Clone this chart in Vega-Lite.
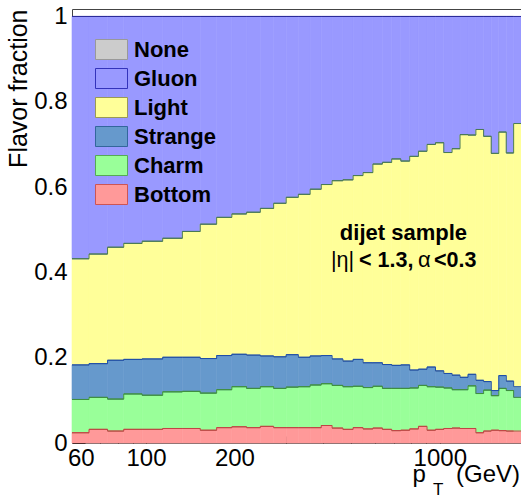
{
  "$schema": "https://vega.github.io/schema/vega-lite/v6.json",
  "width": 449,
  "height": 434,
  "autosize": {"type": "none"},
  "padding": {"left": 72, "top": 9, "right": 0, "bottom": 59},
  "background": "white",
  "config": {
    "font": "Liberation Sans",
    "view": {"stroke": null},
    "axis": {"grid": false, "labelColor": "#000", "tickColor": "#000", "domainColor": "#444", "titleColor": "#000", "labelFontSize": 24, "labelFont": "Liberation Sans", "titleFont": "Liberation Sans"}
  },
  "datasets": {
    "bins": [
      {"lo":56,"hi":64,"Bottom":0.024,"Charm":0.078,"Strange":0.081,"Light":0.249,"Gluon":0.568},
      {"lo":64,"hi":74,"Bottom":0.032,"Charm":0.075,"Strange":0.079,"Light":0.257,"Gluon":0.557},
      {"lo":74,"hi":84,"Bottom":0.028,"Charm":0.075,"Strange":0.091,"Light":0.265,"Gluon":0.541},
      {"lo":84,"hi":97,"Bottom":0.032,"Charm":0.083,"Strange":0.081,"Light":0.272,"Gluon":0.532},
      {"lo":97,"hi":114,"Bottom":0.032,"Charm":0.080,"Strange":0.085,"Light":0.276,"Gluon":0.527},
      {"lo":114,"hi":133,"Bottom":0.034,"Charm":0.086,"Strange":0.081,"Light":0.279,"Gluon":0.520},
      {"lo":133,"hi":153,"Bottom":0.034,"Charm":0.087,"Strange":0.080,"Light":0.295,"Gluon":0.504},
      {"lo":153,"hi":174,"Bottom":0.030,"Charm":0.087,"Strange":0.081,"Light":0.315,"Gluon":0.487},
      {"lo":174,"hi":196,"Bottom":0.036,"Charm":0.089,"Strange":0.080,"Light":0.324,"Gluon":0.471},
      {"lo":196,"hi":220,"Bottom":0.038,"Charm":0.094,"Strange":0.076,"Light":0.329,"Gluon":0.463},
      {"lo":220,"hi":245,"Bottom":0.036,"Charm":0.092,"Strange":0.078,"Light":0.335,"Gluon":0.459},
      {"lo":245,"hi":272,"Bottom":0.039,"Charm":0.093,"Strange":0.072,"Light":0.346,"Gluon":0.450},
      {"lo":272,"hi":300,"Bottom":0.036,"Charm":0.092,"Strange":0.074,"Light":0.360,"Gluon":0.438},
      {"lo":300,"hi":330,"Bottom":0.036,"Charm":0.095,"Strange":0.076,"Light":0.369,"Gluon":0.424},
      {"lo":330,"hi":362,"Bottom":0.036,"Charm":0.096,"Strange":0.069,"Light":0.382,"Gluon":0.417},
      {"lo":362,"hi":395,"Bottom":0.036,"Charm":0.100,"Strange":0.068,"Light":0.391,"Gluon":0.405},
      {"lo":395,"hi":430,"Bottom":0.041,"Charm":0.098,"Strange":0.066,"Light":0.401,"Gluon":0.394},
      {"lo":430,"hi":468,"Bottom":0.035,"Charm":0.100,"Strange":0.062,"Light":0.418,"Gluon":0.385},
      {"lo":468,"hi":507,"Bottom":0.032,"Charm":0.100,"Strange":0.060,"Light":0.425,"Gluon":0.383},
      {"lo":507,"hi":548,"Bottom":0.036,"Charm":0.097,"Strange":0.063,"Light":0.431,"Gluon":0.373},
      {"lo":548,"hi":592,"Bottom":0.033,"Charm":0.097,"Strange":0.058,"Light":0.446,"Gluon":0.366},
      {"lo":592,"hi":638,"Bottom":0.035,"Charm":0.098,"Strange":0.055,"Light":0.466,"Gluon":0.346},
      {"lo":638,"hi":686,"Bottom":0.032,"Charm":0.096,"Strange":0.056,"Light":0.474,"Gluon":0.342},
      {"lo":686,"hi":737,"Bottom":0.029,"Charm":0.099,"Strange":0.054,"Light":0.484,"Gluon":0.334},
      {"lo":737,"hi":790,"Bottom":0.030,"Charm":0.098,"Strange":0.055,"Light":0.478,"Gluon":0.339},
      {"lo":790,"hi":846,"Bottom":0.033,"Charm":0.096,"Strange":0.042,"Light":0.501,"Gluon":0.328},
      {"lo":846,"hi":905,"Bottom":0.039,"Charm":0.096,"Strange":0.038,"Light":0.511,"Gluon":0.316},
      {"lo":905,"hi":967,"Bottom":0.030,"Charm":0.102,"Strange":0.046,"Light":0.522,"Gluon":0.300},
      {"lo":967,"hi":1032,"Bottom":0.032,"Charm":0.099,"Strange":0.038,"Light":0.535,"Gluon":0.296},
      {"lo":1032,"hi":1101,"Bottom":0.034,"Charm":0.095,"Strange":0.034,"Light":0.518,"Gluon":0.319},
      {"lo":1101,"hi":1172,"Bottom":0.035,"Charm":0.090,"Strange":0.034,"Light":0.531,"Gluon":0.310},
      {"lo":1172,"hi":1248,"Bottom":0.034,"Charm":0.091,"Strange":0.029,"Light":0.569,"Gluon":0.277},
      {"lo":1248,"hi":1327,"Bottom":0.034,"Charm":0.100,"Strange":0.027,"Light":0.561,"Gluon":0.278},
      {"lo":1327,"hi":1410,"Bottom":0.024,"Charm":0.092,"Strange":0.031,"Light":0.588,"Gluon":0.265},
      {"lo":1410,"hi":1497,"Bottom":0.028,"Charm":0.096,"Strange":0.020,"Light":0.575,"Gluon":0.281},
      {"lo":1497,"hi":1588,"Bottom":0.030,"Charm":0.081,"Strange":0.012,"Light":0.556,"Gluon":0.321},
      {"lo":1588,"hi":1684,"Bottom":0.029,"Charm":0.099,"Strange":0.030,"Light":0.571,"Gluon":0.271},
      {"lo":1684,"hi":1784,"Bottom":0.028,"Charm":0.095,"Strange":0.022,"Light":0.535,"Gluon":0.320},
      {"lo":1784,"hi":1890,"Bottom":0.028,"Charm":0.079,"Strange":0.025,"Light":0.617,"Gluon":0.251}
    ]
  },
  "layer": [
    {
      "data": {"name": "bins"},
      "transform": [
        {"fold": ["Bottom", "Charm", "Strange", "Light", "Gluon"], "as": ["flavor", "frac"]},
        {"stack": "frac", "groupby": ["lo"], "as": ["y0", "y1"]}
      ],
      "mark": {"type": "rect", "strokeWidth": 0.6},
      "encoding": {
        "x": {"field": "lo", "type": "quantitative", "scale": {"type": "log", "domain": [56, 1890], "nice": false},
              "axis": {"orient": "bottom", "values": [60, 100, 200, 1000], "format": "d", "tickSize": -7, "labelPadding": 10, "labelFontSize": 24, "title": null, "labelFlush": false, "labelOverlap": false, "domainColor": "#666"}},
        "x2": {"field": "hi"},
        "y": {"field": "y0", "type": "quantitative", "scale": {"domain": [0, 1.0175], "nice": false, "zero": false},
              "axis": {"orient": "left", "values": [0, 0.2, 0.4, 0.6, 0.8, 1], "format": ".1~f", "tickSize": -13, "labelPadding": 18, "labelFontSize": 24, "title": "Flavor fraction", "titleAnchor": "end", "titleFontSize": 25, "titleFontWeight": "normal", "titlePadding": 2, "labelFlush": false, "labelOverlap": false}},
        "y2": {"field": "y1"},
        "color": {"field": "flavor", "type": "nominal",
                  "scale": {"domain": ["None", "Gluon", "Light", "Strange", "Charm", "Bottom"], "range": ["#cccccc", "#9999ff", "#ffff99", "#6699cc", "#99ff99", "#ff9999"]},
                  "legend": {"orient": "none", "legendX": 23, "legendY": 24, "title": null, "symbolType": "M-1,-0.625H1V0.625H-1Z", "symbolSize": 1024, "symbolStrokeWidth": 1, "symbolOpacity": 1, "labelFontSize": 22, "labelFontWeight": "bold", "labelColor": "#000", "labelFont": "Liberation Sans", "labelOffset": 6, "rowPadding": 0, "padding": 0,
                             "encode": {"symbols": {"update": {"stroke": {"signal": "datum.value === 'None' ? '#999999' : datum.value === 'Gluon' ? '#3333bb' : datum.value === 'Light' ? '#9a9a55' : datum.value === 'Strange' ? '#33669c' : datum.value === 'Charm' ? '#55aa55' : '#cc5555'"}, "strokeWidth": {"value": 1}}}}}},
        "stroke": {"field": "flavor", "type": "nominal",
                   "scale": {"domain": ["None", "Gluon", "Light", "Strange", "Charm", "Bottom"], "range": ["#cccccc", "#9999ff", "#ffff99", "#6699cc", "#99ff99", "#ff9999"]},
                   "legend": null}
      }
    },
    {
      "data": {"name": "bins"},
      "transform": [
        {"fold": ["Bottom", "Charm", "Strange", "Light", "Gluon"], "as": ["flavor", "frac"]},
        {"stack": "frac", "groupby": ["lo"], "as": ["y0", "y1"]}
      ],
      "mark": {"type": "rule", "strokeWidth": 1},
      "encoding": {
        "x": {"field": "lo", "type": "quantitative", "scale": {"type": "log", "domain": [56, 1890], "nice": false},
              "axis": {"orient": "bottom", "values": [70, 80, 90, 300, 400, 500, 600, 700, 800, 900], "labels": false, "tickSize": -7, "domain": false, "title": null}},
        "x2": {"field": "hi"},
        "y": {"field": "y1", "type": "quantitative", "scale": {"domain": [0, 1.0175], "nice": false, "zero": false},
              "axis": {"orient": "left", "values": [0.05, 0.1, 0.15, 0.25, 0.3, 0.35, 0.45, 0.5, 0.55, 0.65, 0.7, 0.75, 0.85, 0.9, 0.95], "labels": false, "tickSize": -7, "domain": false, "title": null}},
        "stroke": {"field": "flavor", "type": "nominal",
                   "scale": {"domain": ["Gluon", "Light", "Strange", "Charm", "Bottom"], "range": ["#2b2b99", "#4a7a55", "#1f4fa8", "#3f8f3f", "#c04545"]},
                   "legend": null}
      }
    },
    {
      "data": {"name": "bins"},
      "transform": [
        {"fold": ["Bottom", "Charm", "Strange", "Light", "Gluon"], "as": ["flavor", "frac"]},
        {"stack": "frac", "groupby": ["lo"], "as": ["y0", "y1"]}
      ],
      "mark": {"type": "line", "interpolate": "step-after", "strokeWidth": 1},
      "encoding": {
        "x": {"field": "lo", "type": "quantitative", "scale": {"type": "log", "domain": [56, 1890], "nice": false},
              "axis": {"orient": "bottom", "values": [100, 1000], "labels": false, "tickSize": -13, "domain": false, "title": null}},
        "y": {"field": "y1", "type": "quantitative", "scale": {"domain": [0, 1.0175], "nice": false, "zero": false}, "axis": null},
        "stroke": {"field": "flavor", "type": "nominal",
                   "scale": {"domain": ["Gluon", "Light", "Strange", "Charm", "Bottom"], "range": ["#2b2b99", "#4a7a55", "#1f4fa8", "#3f8f3f", "#c04545"]},
                   "legend": null}
      }
    },
    {
      "data": {"values": [{}]},
      "mark": {"type": "text", "text": "dijet sample", "fontSize": 22, "fontWeight": "bold", "align": "center", "baseline": "alphabetic", "fill": "#000"},
      "encoding": {"x": {"datum": 752, "type": "quantitative", "axis": {"orient": "top", "labels": false, "ticks": false, "domain": true, "domainColor": "#444", "title": null}}, "y": {"datum": 0.476, "type": "quantitative", "axis": null}}
    },
    {
      "data": {"values": [{}]},
      "mark": {"type": "text", "text": "|η|", "fontSize": 21.5, "fontWeight": "normal", "align": "left", "baseline": "alphabetic", "fill": "#000"},
      "encoding": {"x": {"datum": 426, "type": "quantitative", "axis": null}, "y": {"datum": 0.4134, "type": "quantitative", "axis": null}}
    },
    {
      "data": {"values": [{}]},
      "mark": {"type": "text", "text": "< 1.3,", "fontSize": 21.5, "fontWeight": "bold", "align": "left", "baseline": "alphabetic", "fill": "#000"},
      "encoding": {"x": {"datum": 531, "type": "quantitative", "axis": null}, "y": {"datum": 0.4134, "type": "quantitative", "axis": null}}
    },
    {
      "data": {"values": [{}]},
      "mark": {"type": "text", "text": "α", "fontSize": 22, "fontWeight": "normal", "align": "left", "baseline": "alphabetic", "fill": "#000"},
      "encoding": {"x": {"datum": 843, "type": "quantitative", "axis": null}, "y": {"datum": 0.4134, "type": "quantitative", "axis": null}}
    },
    {
      "data": {"values": [{}]},
      "mark": {"type": "text", "text": "<0.3", "fontSize": 21.5, "fontWeight": "bold", "align": "left", "baseline": "alphabetic", "fill": "#000"},
      "encoding": {"x": {"datum": 956, "type": "quantitative", "axis": null}, "y": {"datum": 0.4134, "type": "quantitative", "axis": null}}
    },
    {
      "data": {"values": [{}]},
      "mark": {"type": "text", "text": "p", "fontSize": 24, "align": "left", "baseline": "alphabetic", "fill": "#000"},
      "encoding": {"x": {"datum": 808, "type": "quantitative", "axis": null}, "y": {"datum": -0.0925, "type": "quantitative", "axis": null}}
    },
    {
      "data": {"values": [{}]},
      "mark": {"type": "text", "text": "T", "fontSize": 17, "align": "left", "baseline": "alphabetic", "fill": "#000"},
      "encoding": {"x": {"datum": 948, "type": "quantitative", "axis": null}, "y": {"datum": -0.1219, "type": "quantitative", "axis": null}}
    },
    {
      "data": {"values": [{}]},
      "mark": {"type": "text", "text": "(GeV)", "fontSize": 24, "align": "right", "baseline": "alphabetic", "fill": "#000"},
      "encoding": {"x": {"datum": 1875, "type": "quantitative", "axis": null}, "y": {"datum": -0.0925, "type": "quantitative", "axis": null}}
    }
  ],
  "resolve": {"scale": {"stroke": "independent"}, "axis": {"x": "independent", "y": "independent"}}
}
